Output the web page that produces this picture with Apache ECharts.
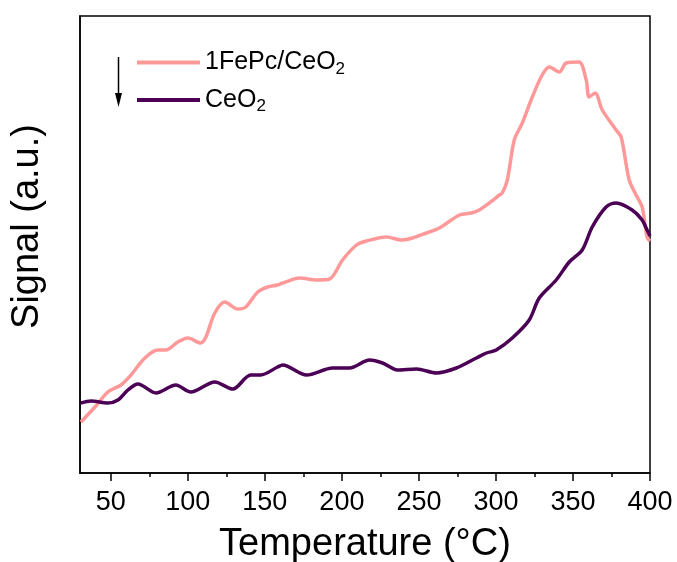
<!DOCTYPE html>
<html>
<head>
<meta charset="utf-8">
<script src="https://cdn.jsdelivr.net/npm/echarts@6/dist/echarts.min.js"></script>
<style>html,body{margin:0;padding:0;background:#fff}#c{width:677px;height:562px}</style>
</head>
<body>
<div id="c"></div>
<script>
// 1FePc/CeO2 (temperature °C, signal a.u.)
const tempA = [30.6,39.7,48.1,56.6,63.1,72.1,80.5,85.7,93.5,100.0,108.4,111.7,117.5,124.0,132.4,137.6,145.4,151.8,158.3,161.6,172.6,183.6,192.0,200.4,209.5,216.0,229.0,238.7,245.8,254.9,263.3,276.3,284.0,289.2,295.7,302.2,304.1,307.4,311.9,317.1,323.6,330.0,334.6,341.1,345.6,354.0,358.6,360.5,364.4,369.0,378.0,381.3,386.5,391.0,394.9,398.1,400];
const signalA = [51,66,81,88,98,115,123,123,131,135,130,136,160,171,164,166,181,186,188,190,195,193,194,213,228,232,236,233,235,240,245,258,260,263,270,278,280,293,333,350,376,398,406,401,410,411,393,376,380,363,343,336,293,278,266,236,232];
// CeO2
const tempB = [30.6,37.1,48.1,54.6,61.1,67.6,79.3,92.2,101.9,117.5,129.2,140.8,147.3,158.3,161.6,177.1,194.0,205.0,218.0,226.4,236.1,248.4,261.4,274.3,287.3,293.8,300.2,310.6,321.6,328.1,339.1,347.6,356.0,362.5,371.5,378.0,388.4,394.9,398.1,400];
const signalB = [70,72,70,73,83,89,80,88,81,91,84,98,98,106,108,98,105,105,113,110,103,104,100,105,115,120,123,135,153,175,193,211,223,246,266,270,263,253,243,237];
const majorTicks = [50,100,150,200,250,300,350,400];
const minorTicks = [75,125,175,225,275,325,375];
const seriesNames = ['1FePc/CeO2','CeO2'];

const chart = echarts.init(document.getElementById('c'));
const font = 'Liberation Sans, Arial, sans-serif';
const pairs = (xs, ys) => xs.map((x, i) => [x, ys[i]]);
const axisBase = {
  type: 'value', min: 30, max: 400, gridIndex: 0,
  splitLine: {show: false}
};
chart.setOption({
  animation: false,
  grid: {left: 80, right: 27, top: 16, bottom: 89, containLabel: false, outerBoundsMode: 'none',
         show: true, borderColor: '#000', borderWidth: 1.5, backgroundColor: 'transparent'},
  legend: {
    orient: 'vertical', left: 132, top: 45, itemWidth: 63, itemHeight: 4, itemGap: 10,
    icon: 'rect',
    data: seriesNames,
    formatter: n => n === 'CeO2' ? '{a|CeO}{s|2}' : '{a|1FePc/CeO}{s|2}',
    textStyle: {
      fontFamily: font, color: '#000',
      rich: {
        a: {fontSize: 25, fontFamily: font, color: '#000', lineHeight: 30},
        s: {fontSize: 17, fontFamily: font, color: '#000', lineHeight: 30, verticalAlign: 'bottom', padding: [10, 0, 0, 0]}
      }
    }
  },
  xAxis: [
    Object.assign({}, axisBase, {
      position: 'bottom',
      name: 'Temperature (°C)', nameLocation: 'middle', nameGap: 53,
      nameTextStyle: {fontFamily: font, fontSize: 38, color: '#000'},
      axisLine: {show: true, lineStyle: {color: '#000', width: 1.5}},
      axisTick: {show: true, customValues: majorTicks, length: 8, inside: false, lineStyle: {color: '#000', width: 1.5}},
      axisLabel: {customValues: majorTicks, fontFamily: font, fontSize: 27, color: '#000', margin: 16}
    }),
    Object.assign({}, axisBase, {
      position: 'bottom',
      axisLine: {show: false},
      axisTick: {show: true, customValues: minorTicks, length: 4, lineStyle: {color: '#000', width: 1.5}},
      axisLabel: {show: false}
    })
  ],
  yAxis: {
    type: 'value', min: 0, max: 457,
    name: 'Signal (a.u.)', nameLocation: 'middle', nameGap: 33,
    nameTextStyle: {fontFamily: font, fontSize: 38, color: '#000', padding: [0, 0, 0, 36]},
    axisLine: {show: true, lineStyle: {color: '#000', width: 1.5}},
    axisTick: {show: false}, axisLabel: {show: false}, splitLine: {show: false}
  },
  graphic: [
    {type: 'line', shape: {x1: 118.5, y1: 57, x2: 118.5, y2: 95}, style: {stroke: '#000', lineWidth: 1.5}},
    {type: 'polygon', shape: {points: [[115, 93], [122, 93], [118.5, 107]]}, style: {fill: '#000'}}
  ],
  series: [
    {name: seriesNames[0], type: 'line', xAxisIndex: 0, data: pairs(tempA, signalA), smooth: 0.3, showSymbol: false, symbol: 'none',
     lineStyle: {color: '#FF9999', width: 3.5}, itemStyle: {color: '#FF9999'}},
    {name: seriesNames[1], type: 'line', xAxisIndex: 0, data: pairs(tempB, signalB), smooth: 0.3, showSymbol: false, symbol: 'none',
     lineStyle: {color: '#4B0055', width: 3.5}, itemStyle: {color: '#4B0055'}}
  ]
});
</script>
</body>
</html>
